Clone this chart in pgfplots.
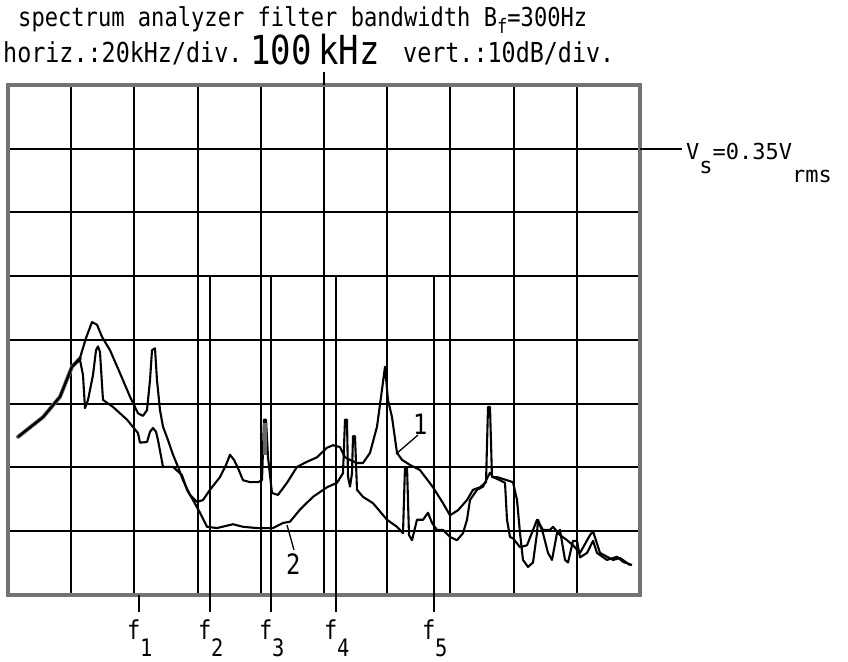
\documentclass[border=0pt]{standalone}
\usepackage{pgfplots}
\pgfplotsset{compat=1.18}
\usepackage{fontspec}
\setmainfont{DejaVu Sans Mono}
\newfontfamily\pf{DejaVu Sans Mono}[FakeStretch=0.85]
\newfontfamily\pfn{DejaVu Sans Mono}
\newcommand{\fs}[1]{\fontsize{#1}{#1}\selectfont}

\begin{document}
\begin{tikzpicture}
\useasboundingbox (0pt,0pt) rectangle (848pt,661pt);
\begin{axis}[
  at={(8pt,66pt)}, anchor=south west,
  scale only axis, width=632pt, height=510pt,
  xmin=0, xmax=200, ymin=-80, ymax=0,
  xtick={0,20,...,200}, ytick={-80,-70,...,0},
  xticklabels={}, yticklabels={},
  major tick length=0pt,
  grid=major,
  major grid style={black, line width=2pt},
  axis line style={black!55, line width=3.6pt},
  clip=false,
]
% common rising part, drawn broad and grey like the doubled trace
\addplot[black!55, line width=4pt, line cap=round] coordinates {
(3.16,-55.2) (11.08,-52.1) (16.46,-48.9) (20.25,-44.2) (22.78,-42.9)
};
% trace 1
\addplot[black, line width=2.1pt, line join=round] coordinates {
(3.16,-55.2) (11.08,-52.1) (16.46,-48.9) (20.25,-44.2) (22.78,-42.8) (24.68,-39.7)
(26.58,-37.2) (28.16,-37.6) (29.75,-39.5) (32.28,-41.6) (35.44,-45.2) (38.61,-48.9)
(41.14,-51.5) (42.72,-51.9) (43.99,-51.0) (44.94,-46.3) (45.57,-41.6) (46.52,-41.3)
(47.15,-46.3) (48.10,-51.0) (49.05,-53.6) (50.63,-55.7) (52.22,-58.0) (53.80,-59.9)
(55.38,-62.0) (57.60,-64.3) (59.81,-65.4) (61.71,-65.1) (63.92,-63.5) (67.09,-61.5)
(68.99,-59.6) (70.25,-58.0) (71.52,-58.8) (72.78,-60.1) (74.37,-62.0) (76.58,-62.3)
(79.11,-62.3) (80.38,-62.0) (81.01,-52.5) (81.65,-52.5) (82.28,-58.4) (83.54,-64.0)
(85.44,-64.3) (88.29,-62.4) (91.46,-59.9) (94.62,-59.1) (97.78,-58.4) (100.95,-56.9)
(102.85,-56.5) (105.06,-56.8) (106.65,-58.4) (108.23,-58.8) (110.44,-59.3) (112.34,-59.3)
(114.56,-57.7) (116.77,-53.6) (118.35,-47.8) (119.30,-44.2) (120.25,-49.4) (121.52,-52.1)
(123.10,-57.7) (124.68,-58.8) (127.22,-59.6) (130.38,-60.4) (134.49,-63.1) (137.66,-65.6)
(139.87,-67.5) (142.41,-66.7) (145.25,-65.1) (147.15,-63.5) (149.37,-63.1) (151.27,-62.3)
(151.90,-50.5) (152.53,-50.5) (153.16,-61.5) (154.75,-61.5) (157.91,-62.0) (159.81,-62.3)
(161.08,-65.1) (162.03,-70.3) (162.97,-74.5) (164.56,-75.6) (166.14,-74.9) (167.41,-70.3)
(167.72,-68.2) (169.30,-70.3) (170.89,-73.4) (172.15,-74.5) (173.73,-70.3) (174.68,-69.8)
(176.27,-74.5) (177.22,-74.9) (178.80,-71.5) (180.06,-71.5) (181.01,-74.1) (183.23,-73.4)
(185.13,-71.5) (186.39,-73.4) (189.56,-74.5) (192.72,-74.0) (194.62,-74.8) (197.47,-75.3)
};
% trace 2
\addplot[black, line width=2.1pt, line join=round] coordinates {
(3.16,-55.2) (11.08,-52.1) (16.46,-48.9) (20.25,-44.2) (22.78,-43.1) (23.73,-45.5)
(24.37,-50.7) (25.32,-49.4) (26.90,-45.5) (27.85,-41.6) (28.48,-41.0) (29.11,-41.9)
(30.06,-49.4) (33.23,-50.5) (37.66,-52.5) (41.14,-54.6) (41.77,-56.1) (43.99,-56.0)
(44.94,-54.4) (45.89,-53.8) (46.84,-54.4) (47.47,-55.7) (49.05,-59.9) (52.22,-59.9)
(55.06,-61.2) (56.65,-63.5) (58.54,-65.1) (60.76,-67.1) (62.97,-69.3) (66.14,-69.5)
(71.20,-68.9) (74.37,-69.3) (78.80,-69.5) (83.86,-69.5) (87.03,-68.7) (89.24,-68.5)
(92.41,-66.6) (96.52,-64.6) (100.95,-63.1) (104.11,-62.4) (106.01,-60.9) (106.65,-52.5)
(107.28,-52.5) (107.59,-61.4) (108.23,-63.0) (108.86,-60.9) (109.18,-55.1) (109.81,-55.1)
(110.44,-63.5) (112.34,-64.6) (115.51,-65.6) (119.94,-68.2) (123.10,-69.3) (125.00,-70.3)
(125.63,-59.9) (126.27,-59.9) (126.90,-70.6) (127.85,-71.4) (129.43,-68.2) (131.33,-68.2)
(132.91,-67.1) (134.18,-68.7) (135.76,-69.8) (137.66,-69.8) (139.87,-70.9) (142.09,-71.4)
(143.99,-70.3) (145.25,-68.2) (146.20,-65.1) (148.42,-63.5) (150.32,-63.0) (152.53,-60.8)
(153.48,-61.5) (155.70,-62.0) (157.28,-62.4) (157.91,-68.2) (158.86,-70.9) (159.81,-71.1)
(162.03,-72.5) (164.24,-72.2) (167.41,-68.2) (169.30,-69.8) (171.52,-69.8) (172.47,-69.3)
(174.68,-70.6) (176.90,-71.4) (178.80,-72.2) (181.01,-73.4) (184.18,-70.6) (185.13,-70.0)
(187.34,-73.4) (189.56,-74.0) (191.46,-74.5) (193.67,-74.2) (196.84,-75.3)
};
% broad grey spike at f3
\addplot[black!60, line width=3.5pt] coordinates {(81.3,-53) (81.3,-58)};
% spectral lines f2..f5 and ticks
\addplot[black, line width=1.8pt] coordinates {(63.9,-30) (63.9,-82.7)};
\addplot[black, line width=1.8pt] coordinates {(83.2,-30) (83.2,-82.7)};
\addplot[black, line width=1.8pt] coordinates {(103.8,-30) (103.8,-82.7)};
\addplot[black, line width=1.8pt] coordinates {(134.8,-30) (134.8,-82.7)};
\addplot[black, line width=1.8pt] coordinates {(41.5,-80) (41.5,-82.7)};
% centre marker
\addplot[black, line width=1.8pt] coordinates {(100,0) (100,2.0)};
% reference level line
\addplot[black, line width=2pt] coordinates {(200,-10) (213.3,-10)};
\end{axis}
% texts
\node[anchor=base west, inner sep=0] at (18pt,634pt) {\pf\fs{26pt}spectrum analyzer filter bandwidth B\raisebox{-7pt}{\fs{20pt}f}=300Hz};
\node[anchor=base west, inner sep=0] at (3pt,598pt) {\pf\fs{27.5pt}horiz.:20kHz/div.};
\node[anchor=base west, inner sep=0] at (250pt,596pt) {\pf\fs{40pt}100};
\node[anchor=base west, inner sep=0] at (318pt,596pt) {\pf\fs{40pt}kHz};
\node[anchor=base west, inner sep=0] at (403pt,598pt) {\pf\fs{27.5pt}vert.:10dB/div.};
\node[anchor=base west, inner sep=0] at (686pt,501pt) {\pfn\fs{22pt}V\raisebox{-14pt}{s}=0.35V\raisebox{-23pt}{rms}};
% trace labels
\node[anchor=base west, inner sep=0] at (413pt,226pt) {\pf\fs{28pt}1};
\node[anchor=base west, inner sep=0] at (286pt,86pt) {\pf\fs{28pt}2};
\draw[black, line width=1.3pt] (396pt,207pt) -- (418pt,226pt);
\draw[black, line width=1.3pt] (287pt,136pt) -- (294pt,111pt);
% f labels
\foreach \t/\n in {139/1,210/2,271/3,336/4,434/5}{
  \node[anchor=base west, inner sep=0] at (\t pt-12pt,22pt) {\pf\fs{26pt}f};
  \node[anchor=base west, inner sep=0] at (\t pt+1pt,5pt) {\pf\fs{24pt}\n};
}
\end{tikzpicture}
\end{document}
